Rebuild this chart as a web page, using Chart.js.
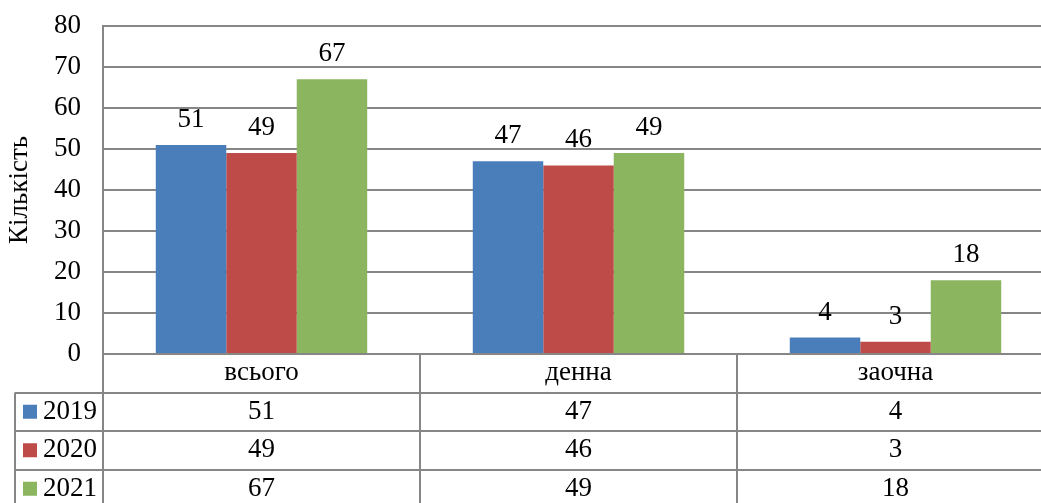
<!DOCTYPE html>
<html>
<head>
<meta charset="utf-8">
<script src="https://cdn.jsdelivr.net/npm/chart.js@4/dist/chart.umd.min.js"></script>
<style>
	html, body { margin: 0; padding: 0; background: #fff; overflow: hidden; }
	#wrap { position: relative; width: 1056px; height: 503px; }
</style>
</head>
<body>
<div id="wrap"><canvas id="chart"></canvas></div>
<script>
	const categories = ["всього", "денна", "заочна"];
	const years = ["2019", "2020", "2021"];
	const values2019 = [51, 47, 4];
	const values2020 = [49, 46, 3];
	const values2021 = [67, 49, 18];
	const colors = ["#4a7ebb", "#be4b48", "#8cb55f"];

	const FONT = "'Liberation Serif', 'Times New Roman', serif";
	const FSIZE = 27;
	const GRID = "#868686";

	// labels above bars
	const valueLabels = {
		id: "valueLabels",
		afterDatasetsDraw(chart) {
			const ctx = chart.ctx;
			ctx.save();
			ctx.font = FSIZE + "px " + FONT;
			ctx.fillStyle = "#000";
			ctx.textAlign = "center";
			ctx.textBaseline = "alphabetic";
			chart.data.datasets.forEach((ds, i) => {
				chart.getDatasetMeta(i).data.forEach((bar, j) => {
					ctx.fillText(ds.data[j], bar.x, bar.y - 18);
				});
			});
			ctx.restore();
		},
	};

	// data table under the plot, like Excel
	const dataTable = {
		id: "dataTable",
		afterDraw(chart) {
			const ctx = chart.ctx;
			const area = chart.chartArea;
			const xs = chart.scales.x;
			const catW = (area.right - area.left) / categories.length;
			const top = area.bottom;
			const rowH = 38.5;
			const bottom = chart.height;
			const leftX = 15;

			ctx.save();
			ctx.strokeStyle = GRID;
			ctx.lineWidth = 2;
			ctx.beginPath();
			// horizontal lines of the value rows
			for (let r = 1; r <= years.length; r++) {
				const y = Math.round(top + rowH * r);
				ctx.moveTo(leftX, y);
				ctx.lineTo(area.right, y);
			}
			// column dividers
			for (let c = 0; c <= categories.length; c++) {
				const x = Math.round(area.left + catW * c);
				ctx.moveTo(x, top);
				ctx.lineTo(x, bottom);
			}
			ctx.moveTo(leftX, top + rowH);
			ctx.lineTo(leftX, bottom);
			ctx.stroke();

			ctx.font = FSIZE + "px " + FONT;
			ctx.fillStyle = "#000";
			ctx.textBaseline = "middle";
			ctx.textAlign = "center";
			categories.forEach((c, i) => {
				ctx.fillText(c, xs.getPixelForValue(i), top + rowH / 2);
			});
			chart.data.datasets.forEach((ds, r) => {
				const cy = top + rowH * (r + 1.5);
				ctx.textAlign = "center";
				ds.data.forEach((v, i) => {
					ctx.fillText(v, xs.getPixelForValue(i), cy);
				});
				ctx.fillStyle = ds.backgroundColor;
				ctx.fillRect(23, cy - 7, 14, 14);
				ctx.fillStyle = "#000";
				ctx.textAlign = "left";
				ctx.fillText(ds.label, 43, cy);
			});
			ctx.restore();
		},
	};

	const data = {
		labels: categories,
		datasets: [
			{ label: years[0], data: values2019, backgroundColor: colors[0] },
			{ label: years[1], data: values2020, backgroundColor: colors[1] },
			{ label: years[2], data: values2021, backgroundColor: colors[2] },
		],
	};

	const options = {
		responsive: true,
		maintainAspectRatio: false,
		animation: false,
		layout: {
			padding: { top: 26, right: 2, bottom: 149, left: 0 },
		},
		datasets: {
			bar: {
				categoryPercentage: 0.667,
				barPercentage: 1,
			},
		},
		plugins: {
			legend: { display: false },
			tooltip: { enabled: false },
		},
		scales: {
			x: {
				display: false,
			},
			y: {
				min: 0,
				max: 80,
				ticks: {
					stepSize: 10,
					padding: 22,
					color: "#000",
					font: { family: FONT, size: FSIZE },
				},
				grid: {
					color: GRID,
					lineWidth: 2,
					drawTicks: false,
				},
				border: { display: true, color: GRID, width: 2 },
				title: {
					display: true,
					text: "Кількість",
					color: "#000",
					font: { family: FONT, size: FSIZE },
					padding: { top: 4, bottom: 0 },
				},
				afterFit(scale) {
					scale.width = 103;
					// let layout.padding alone decide where the plot starts
					scale.paddingTop = 0;
					scale.paddingBottom = 0;
				},
			},
		},
	};

	new Chart(document.getElementById("chart").getContext("2d"), {
		type: "bar",
		data,
		options,
		plugins: [valueLabels, dataTable],
	});
</script>
</body>
</html>
